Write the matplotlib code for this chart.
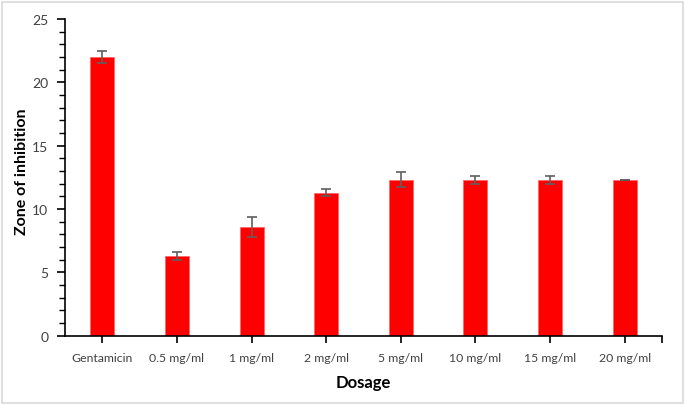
import matplotlib
matplotlib.use("Agg")
import matplotlib.pyplot as plt
from matplotlib.patches import Rectangle
from matplotlib.ticker import MultipleLocator, FixedLocator

categories = ["Gentamicin", "0.5 mg/ml", "1 mg/ml", "2 mg/ml", "5 mg/ml",
              "10 mg/ml", "15 mg/ml", "20 mg/ml"]
values = [22.0, 6.3, 8.6, 11.3, 12.3, 12.3, 12.3, 12.3]
errors = [0.45, 0.3, 0.8, 0.3, 0.6, 0.3, 0.3, 0.03]

plt.rcParams['font.family'] = ['Lato', 'DejaVu Sans']

fig = plt.figure(figsize=(6.85, 4.06), dpi=100)
ax = fig.add_axes([0.0949, 0.1707, 0.8715, 0.78])

x = list(range(len(categories)))
ax.bar(x, values, width=0.32, color="#ff0000", edgecolor="#ff6666", linewidth=0.6,
       zorder=2)
ax.errorbar(x, values, yerr=errors, fmt="none", ecolor="#5f5f5f", elinewidth=1.2,
            capsize=3.5, capthick=1.2, zorder=3)

ax.set_xlim(-0.5, len(categories) - 0.5)
ax.set_ylim(0, 25)
ax.yaxis.set_major_locator(MultipleLocator(5))
ax.yaxis.set_minor_locator(MultipleLocator(1))
ax.set_xticks(x)
ax.set_xticklabels(categories)
ax.xaxis.set_minor_locator(FixedLocator([len(categories) - 0.5]))

for s in ["top", "right"]:
    ax.spines[s].set_visible(False)
for s in ["left", "bottom"]:
    ax.spines[s].set_linewidth(1.2)
    ax.spines[s].set_color("black")

ax.tick_params(axis="y", which="major", direction="out", length=6, width=1.2,
               labelsize=10, labelcolor="#404040", pad=6)
ax.tick_params(axis="y", which="minor", direction="out", length=4, width=1.0)
ax.tick_params(axis="x", which="major", direction="out", length=5, width=1.2,
               labelsize=8.8, labelcolor="#404040", pad=7)
ax.tick_params(axis="x", which="minor", direction="out", length=5, width=1.2)

ax.set_ylabel("Zone of inhibition", fontsize=11.5, fontweight="bold")
ax.yaxis.set_label_coords(-0.061, 0.52)
ax.set_xlabel("Dosage", fontsize=12, fontweight="bold", labelpad=8)

fig.patches.append(Rectangle((2 / 685, 2 / 406), 681 / 685, 401 / 406,
                             transform=fig.transFigure, fill=False,
                             edgecolor="#d9d9d9", linewidth=1.2))

fig.savefig("out.png", dpi=100)
